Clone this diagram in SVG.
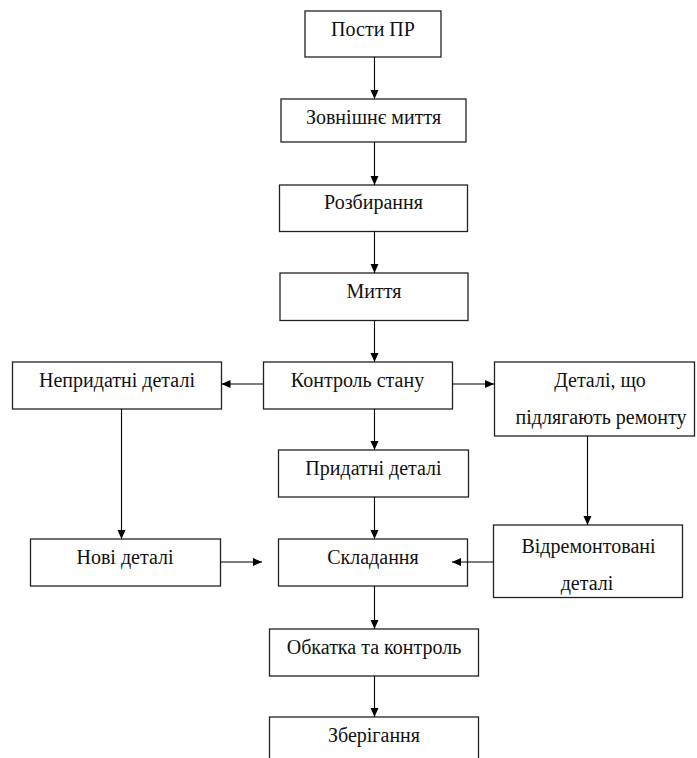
<svg xmlns="http://www.w3.org/2000/svg" width="697" height="758" viewBox="0 0 697 758">
<style>
.box{fill:#fff;stroke:#222;stroke-width:1.3}
.t{font-family:"Times New Roman","Liberation Serif",Tinos,"Noto Serif","DejaVu Serif",Georgia,serif;font-size:20px;fill:#111;text-anchor:middle}
.c{stroke:#000;stroke-width:1.1;fill:none;marker-end:url(#ah)}
</style>
<defs>
<marker id="ah" markerUnits="userSpaceOnUse" markerWidth="9" markerHeight="9" viewBox="0 0 9 9" refX="9" refY="4.5" orient="auto">
<path d="M0,0.5 L9,4.5 L0,8.5 z" fill="#000"/>
</marker>
</defs>
<rect width="697" height="758" fill="#fff"/>
<g id="n1"><rect class="box" x="305" y="11" width="136" height="46"/><text class="t" x="373" y="35.5">Пости ПР</text></g>
<g id="n2"><rect class="box" x="281" y="99" width="185" height="43"/><text class="t" x="373.5" y="123.5">Зовнішнє миття</text></g>
<g id="n3"><rect class="box" x="279.5" y="185" width="188" height="46.5"/><text class="t" x="373.5" y="209">Розбирання</text></g>
<g id="n4"><rect class="box" x="280" y="273" width="188" height="47.5"/><text class="t" x="374" y="297.5">Миття</text></g>
<g id="n5"><rect class="box" x="263.5" y="362" width="189" height="47"/><text class="t" x="357.5" y="387">Контроль стану</text></g>
<g id="n6"><rect class="box" x="12.5" y="362" width="209" height="47"/><text class="t" x="117" y="387">Непридатні деталі</text></g>
<g id="n7"><rect class="box" x="494.5" y="362" width="200" height="74"/><text class="t" x="600" y="387">Деталі, що</text><text class="t" x="601" y="424">підлягають ремонту</text></g>
<g id="n8"><rect class="box" x="278.5" y="450" width="190" height="47"/><text class="t" x="373.5" y="475">Придатні деталі</text></g>
<g id="n9"><rect class="box" x="30.5" y="539" width="190" height="47"/><text class="t" x="125" y="563.5">Нові деталі</text></g>
<g id="n10"><rect class="box" x="278.5" y="539" width="189" height="47"/><text class="t" x="373" y="563.5">Складання</text></g>
<g id="n11"><rect class="box" x="493.5" y="525" width="189" height="72.5"/><text class="t" x="588.5" y="553">Відремонтовані</text><text class="t" x="587" y="589.5">деталі</text></g>
<g id="n12"><rect class="box" x="269.5" y="629" width="209" height="47"/><text class="t" x="374" y="654">Обкатка та контроль</text></g>
<g id="n13"><rect class="box" x="269.5" y="717" width="209" height="50"/><text class="t" x="374" y="742">Зберігання</text></g>
<g id="connectors">
<line class="c" x1="374.5" y1="57" x2="374.5" y2="99"/>
<line class="c" x1="374.5" y1="142" x2="374.5" y2="185"/>
<line class="c" x1="374.5" y1="231.5" x2="374.5" y2="273"/>
<line class="c" x1="374.5" y1="320.5" x2="374.5" y2="362"/>
<line class="c" x1="263" y1="384" x2="221.5" y2="384"/>
<line class="c" x1="452" y1="384" x2="494" y2="384"/>
<line class="c" x1="374.5" y1="409" x2="374.5" y2="450"/>
<line class="c" x1="121.5" y1="409" x2="121.5" y2="539"/>
<line class="c" x1="587.5" y1="436" x2="587.5" y2="525"/>
<line class="c" x1="374.5" y1="497" x2="374.5" y2="539"/>
<line class="c" x1="220" y1="562" x2="262" y2="562"/>
<line class="c" x1="493" y1="562" x2="452" y2="562"/>
<line class="c" x1="374.5" y1="586" x2="374.5" y2="629"/>
<line class="c" x1="374.5" y1="676" x2="374.5" y2="717"/>
</g>
</svg>
